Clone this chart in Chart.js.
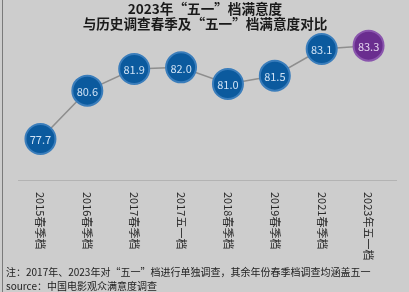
<!DOCTYPE html>
<html>
<head>
<meta charset="utf-8">
<script src="https://cdn.jsdelivr.net/npm/chart.js@4"></script>
<style>
  html, body { margin: 0; padding: 0; background: #cdcdcd; }
  #wrap { position: relative; width: 409px; height: 292px; }
  #wrap:before { content: ""; position: absolute; left: 2px; top: 0; bottom: 0; width: 1px; background: #7a7a7a; }
</style>
</head>
<body>
<div id="wrap"><canvas id="myChart" width="409" height="292"></canvas></div>
<script>
const categories = ["2015春季档", "2016春季档", "2017春季档", "2017五一档", "2018春季档", "2019春季档", "2021春季档", "2023年五一档"];
const scores = [77.7, 80.6, 81.9, 82.0, 81.0, 81.5, 83.1, 83.3];
const titleLines = ["2023年“五一”档满意度", "与历史调查春季及“五一”档满意度对比"];
const noteLines = ["注：2017年、2023年对“五一”档进行单独调查，其余年份春季档调查均涵盖五一", "source：中国电影观众满意度调查"];

const FONT = "'Noto Sans CJK SC', 'Microsoft YaHei', sans-serif";

// point colours: last one (2023) in purple
const fill = scores.map((v, i) => i === scores.length - 1 ? "#6a2d8f" : "#0b5a9e");
const edge = scores.map((v, i) => i === scores.length - 1 ? "#8a55ad" : "#3a7dbb");

// axis line drawn under the points
const axisPlugin = {
  id: "axisLine",
  beforeDatasetsDraw(chart) {
    const ctx = chart.ctx;
    const area = chart.chartArea;
    ctx.save();
    ctx.strokeStyle = "#b3b3b3";
    ctx.lineWidth = 1;
    ctx.beginPath();
    ctx.moveTo(area.left + 1, Math.round(area.bottom - 4) + 0.5);
    ctx.lineTo(area.right + 5, Math.round(area.bottom - 4) + 0.5);
    ctx.stroke();
    ctx.restore();
  }
};

// title, value labels, vertical x labels and notes
const textPlugin = {
  id: "texts",
  afterDatasetsDraw(chart) {
    const ctx = chart.ctx;
    const meta = chart.getDatasetMeta(0);
    const x = chart.scales.x;
    const area = chart.chartArea;
    ctx.save();

    ctx.fillStyle = "#1a1a1a";
    ctx.textAlign = "center";
    ctx.textBaseline = "middle";
    ctx.font = "bold 13.6px " + FONT;
    ctx.fillText(titleLines[0], 205, 9);
    ctx.fillText(titleLines[1], 205, 24);

    ctx.font = "11px " + FONT;
    meta.data.forEach((pt, i) => {
      ctx.fillStyle = i === scores.length - 1 ? "#e6d6f0" : "#cfe2f5";
      ctx.fillText(scores[i].toFixed(1), pt.x, pt.y + 1);
    });

    ctx.fillStyle = "#2a2a2a";
    ctx.font = "11px " + FONT;
    ctx.textAlign = "left";
    categories.forEach((c, i) => {
      ctx.save();
      ctx.translate(x.getPixelForValue(i), area.bottom + 8);
      ctx.rotate(Math.PI / 2);
      ctx.fillText(c, 0, 0);
      ctx.restore();
    });

    ctx.font = "10px " + FONT;
    ctx.fillStyle = "#222";
    ctx.fillText(noteLines[0], 6, 272);
    ctx.fillText(noteLines[1], 6, 286);
    ctx.restore();
  }
};

const config = {
  type: "line",
  data: {
    labels: categories,
    datasets: [{
      data: scores,
      borderColor: "#8e8e8e",
      borderWidth: 1.5,
      pointRadius: 15,
      pointHoverRadius: 15,
      pointBackgroundColor: fill,
      pointBorderColor: edge,
      pointBorderWidth: 2,
      clip: false,
      tension: 0
    }]
  },
  options: {
    responsive: false,
    animation: false,
    layout: { padding: { left: 14, right: 9, top: 34, bottom: 100 } },
    plugins: { legend: { display: false }, tooltip: { enabled: false } },
    scales: {
      x: {
        offset: true,
        grid: { display: false },
        border: { display: false },
        ticks: { display: false }
      },
      y: {
        display: false,
        min: 75,
        max: 84
      }
    }
  },
  plugins: [axisPlugin, textPlugin]
};

const myChart = new Chart(document.getElementById("myChart"), config);
</script>
</body>
</html>
